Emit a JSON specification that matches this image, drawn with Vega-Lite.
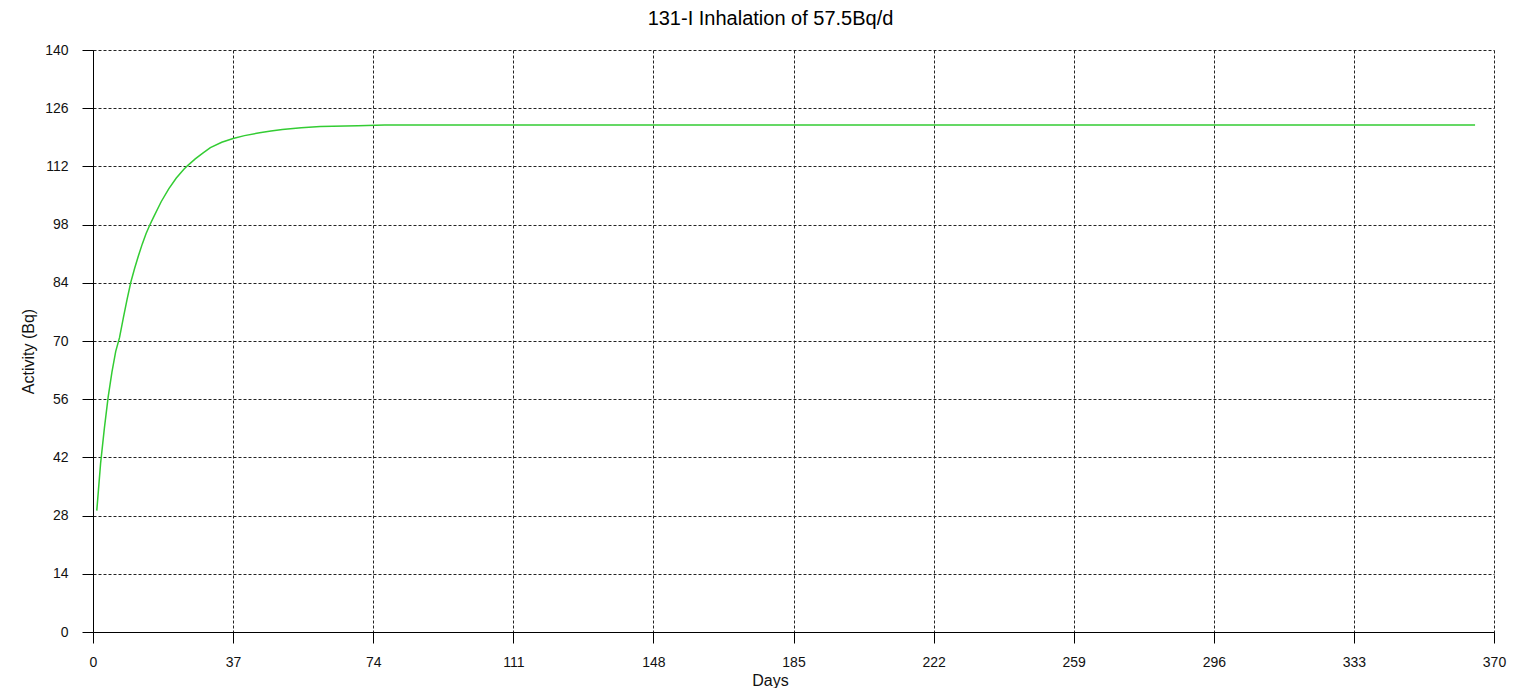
{
  "$schema": "https://vega.github.io/schema/vega-lite/v6.json",
  "width": 1401,
  "height": 582,
  "autosize": {"type": "none"},
  "padding": {"left": 93, "top": 50, "right": 36, "bottom": 56},
  "background": "#ffffff",
  "title": {
    "text": "131-I Inhalation of 57.5Bq/d",
    "font": "Liberation Sans",
    "fontSize": 20,
    "fontWeight": "normal",
    "color": "#000000",
    "anchor": "middle",
    "dx": -23,
    "offset": 14
  },
  "data": {
    "values": [
      {"day": 1, "activity": 29.2},
      {"day": 2, "activity": 40.5},
      {"day": 3, "activity": 49.0},
      {"day": 4, "activity": 56.5},
      {"day": 5, "activity": 62.5},
      {"day": 6, "activity": 67.5},
      {"day": 7, "activity": 70.8},
      {"day": 8, "activity": 75.5},
      {"day": 9, "activity": 80.0},
      {"day": 10, "activity": 84.2},
      {"day": 11, "activity": 87.5},
      {"day": 12, "activity": 90.5},
      {"day": 13, "activity": 93.3},
      {"day": 14, "activity": 95.8},
      {"day": 15, "activity": 97.9},
      {"day": 16, "activity": 99.8},
      {"day": 18, "activity": 103.5},
      {"day": 20, "activity": 106.6},
      {"day": 22, "activity": 109.2},
      {"day": 24, "activity": 111.3},
      {"day": 25, "activity": 112.2},
      {"day": 27, "activity": 113.8},
      {"day": 29, "activity": 115.2},
      {"day": 31, "activity": 116.5},
      {"day": 34, "activity": 117.8},
      {"day": 37, "activity": 118.7},
      {"day": 40, "activity": 119.4},
      {"day": 44, "activity": 120.1},
      {"day": 47, "activity": 120.5},
      {"day": 50, "activity": 120.9},
      {"day": 55, "activity": 121.3},
      {"day": 60, "activity": 121.6},
      {"day": 70, "activity": 121.8},
      {"day": 77, "activity": 121.95},
      {"day": 100, "activity": 121.95},
      {"day": 150, "activity": 121.95},
      {"day": 200, "activity": 121.95},
      {"day": 250, "activity": 121.95},
      {"day": 300, "activity": 121.95},
      {"day": 365, "activity": 121.95}
    ]
  },
  "mark": {"type": "line", "color": "#33cc33", "strokeWidth": 1.5, "clip": true},
  "encoding": {
    "x": {
      "field": "day",
      "type": "quantitative",
      "scale": {"domain": [0, 370], "nice": false, "zero": false},
      "axis": {
        "title": "Days",
        "values": [0, 37, 74, 111, 148, 185, 222, 259, 296, 333, 370],
        "titleX": 677,
        "titleY": 53,
        "titleBaseline": "alphabetic",
        "titleAlign": "center",
        "labelPadding": 12
      }
    },
    "y": {
      "field": "activity",
      "type": "quantitative",
      "scale": {"domain": [0, 140], "nice": false, "zero": false},
      "axis": {
        "title": "Activity (Bq)",
        "values": [0, 14, 28, 42, 56, 70, 84, 98, 112, 126, 140],
        "titleX": -60,
        "titleY": 301,
        "titleAngle": -90,
        "titleBaseline": "alphabetic",
        "titleAlign": "center",
        "labelPadding": 14
      }
    }
  },
  "config": {
    "view": {"stroke": null},
    "axis": {
      "grid": true,
      "gridColor": "#222222",
      "gridDash": [3, 2],
      "gridWidth": 1,
      "gridOpacity": 1,
      "domain": true,
      "domainColor": "#000000",
      "domainWidth": 1,
      "ticks": true,
      "tickColor": "#000000",
      "tickSize": 11,
      "tickWidth": 1,
      "labelFont": "Liberation Sans",
      "labelFontSize": 14,
      "labelColor": "#111111",
      "labelFlush": false,
      "labelOverlap": false,
      "titleFont": "Liberation Sans",
      "titleFontSize": 16,
      "titleFontWeight": "normal",
      "titleColor": "#111111"
    }
  }
}
